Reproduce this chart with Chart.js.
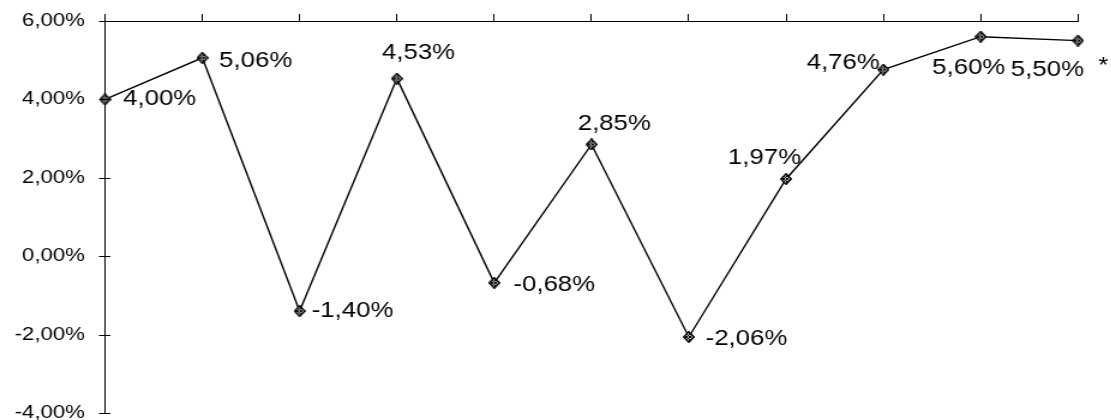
<!DOCTYPE html>
<html>
<head>
<meta charset="utf-8">
<script src="https://cdn.jsdelivr.net/npm/chart.js@4/dist/chart.umd.min.js"></script>
<style>
  html, body { margin: 0; padding: 0; background: #fff; overflow: hidden; }
  /* the drawing is laid out narrow and widened horizontally */
  #wrap { width: 926px; height: 420px; transform: scaleX(1.2); transform-origin: 0 0; }
  canvas { display: block; }
</style>
</head>
<body>
<div id="wrap"><canvas id="c" width="926" height="420"></canvas></div>
<script>
// periods along the horizontal axis (not labelled)
const categories = ['1', '2', '3', '4', '5', '6', '7', '8', '9', '10', '11'];
// growth rate per period, in percent
const values = [4.00, 5.06, -1.40, 4.53, -0.68, 2.85, -2.06, 1.97, 4.76, 5.60, 5.50];
// footnote marks after a value label
const notes = ['', '', '', '', '', '', '', '', '', '', '*'];
// vertical axis range and step
const yMin = -4, yMax = 6, yStep = 2;

const fmt = v => v.toFixed(2).replace('.', ',') + '%';
const FONT = '"Liberation Sans", Arial, sans-serif';

// where each value label sits relative to its point
const labelPlacement = [
  { align: 'left',   dx: 15,  dy: -2 },
  { align: 'left',   dx: 14,  dy: 1 },
  { align: 'left',   dx: 10,  dy: -2 },
  { align: 'center', dx: 18,  dy: -27 },
  { align: 'left',   dx: 16,  dy: 0 },
  { align: 'center', dx: 19,  dy: -22 },
  { align: 'left',   dx: 14,  dy: 0 },
  { align: 'center', dx: -18, dy: -23 },
  { align: 'right',  dx: -3,  dy: -8 },
  { align: 'center', dx: -10, dy: 30 },
  { align: 'left',   dx: -56, dy: 28 }
];

// hatched diamond marker
function makeMarker() {
  const w = 10, h = 12;
  const m = document.createElement('canvas');
  m.width = w; m.height = h;
  const g = m.getContext('2d');
  const path = () => {
    g.beginPath();
    g.moveTo(w / 2, 0.6); g.lineTo(w - 0.6, h / 2); g.lineTo(w / 2, h - 0.6); g.lineTo(0.6, h / 2);
    g.closePath();
  };
  path();
  g.fillStyle = '#bbb';
  g.fill();
  g.save();
  g.clip();
  g.strokeStyle = '#000';
  g.lineWidth = 1;
  for (let k = -h; k < w + h; k += 3) {
    g.beginPath(); g.moveTo(k, 0); g.lineTo(k + h, h); g.stroke();
    g.beginPath(); g.moveTo(k, h); g.lineTo(k + h, 0); g.stroke();
  }
  g.restore();
  path();
  g.strokeStyle = '#000';
  g.lineWidth = 1.3;
  g.stroke();
  return m;
}

// tick marks crossing the vertical axis
const crossTicks = {
  id: 'crossTicks',
  afterDraw(chart) {
    const ctx = chart.ctx, y = chart.scales.y;
    const x0 = Math.round(chart.chartArea.left) + 0.5;
    ctx.save();
    ctx.strokeStyle = '#000';
    ctx.lineWidth = 1;
    y.ticks.forEach(t => {
      const py = Math.round(y.getPixelForValue(t.value)) + 0.5;
      ctx.beginPath();
      ctx.moveTo(x0 - 6, py);
      ctx.lineTo(x0 + 3.5, py);
      ctx.stroke();
    });
    ctx.restore();
  }
};

// value labels next to the points
const valueLabels = {
  id: 'valueLabels',
  afterDatasetsDraw(chart) {
    const ctx = chart.ctx;
    const meta = chart.getDatasetMeta(0);
    const size = 21.5;
    ctx.save();
    ctx.font = size + 'px ' + FONT;
    ctx.fillStyle = '#000';
    ctx.textBaseline = 'alphabetic';
    meta.data.forEach((pt, i) => {
      const p = labelPlacement[i];
      const text = fmt(values[i]);
      const base = pt.y + p.dy + 0.358 * size;
      ctx.textAlign = p.align;
      ctx.fillText(text, pt.x + p.dx, base);
      if (notes[i]) {
        ctx.textAlign = 'left';
        ctx.fillText(notes[i], pt.x + 17, base - 4);
      }
    });
    ctx.restore();
  }
};

new Chart(document.getElementById('c'), {
  type: 'line',
  data: {
    labels: categories,
    datasets: [{
      data: values,
      borderColor: '#000',
      borderWidth: 1.4,
      tension: 0,
      fill: false,
      clip: false,
      pointStyle: makeMarker(),
      pointRadius: 5,
      pointHoverRadius: 5
    }]
  },
  options: {
    responsive: false,
    animation: false,
    devicePixelRatio: 1,
    events: [],
    layout: { padding: { left: 0, right: 27.7, top: 0, bottom: 7 } },
    plugins: { legend: { display: false }, tooltip: { enabled: false } },
    scales: {
      x: {
        type: 'category',
        position: 'top',
        offset: false,
        grid: { drawOnChartArea: false, drawTicks: true, tickLength: 7, color: '#000', lineWidth: 1 },
        border: { display: true, color: '#000', width: 1 },
        ticks: { display: false },
        afterFit(s) { s.height = 21; s.paddingLeft = 0; s.paddingRight = 0; }
      },
      y: {
        min: yMin,
        max: yMax,
        grid: { drawOnChartArea: false, drawTicks: false },
        border: { display: true, color: '#000', width: 1 },
        ticks: {
          stepSize: yStep,
          padding: 16.7,
          color: '#000',
          font: { family: FONT, size: 18.5 },
          callback: v => fmt(v)
        },
        afterFit(s) { s.width = 87.5; s.paddingTop = 0; s.paddingBottom = 0; }
      }
    }
  },
  plugins: [crossTicks, valueLabels]
});
</script>
</body>
</html>
